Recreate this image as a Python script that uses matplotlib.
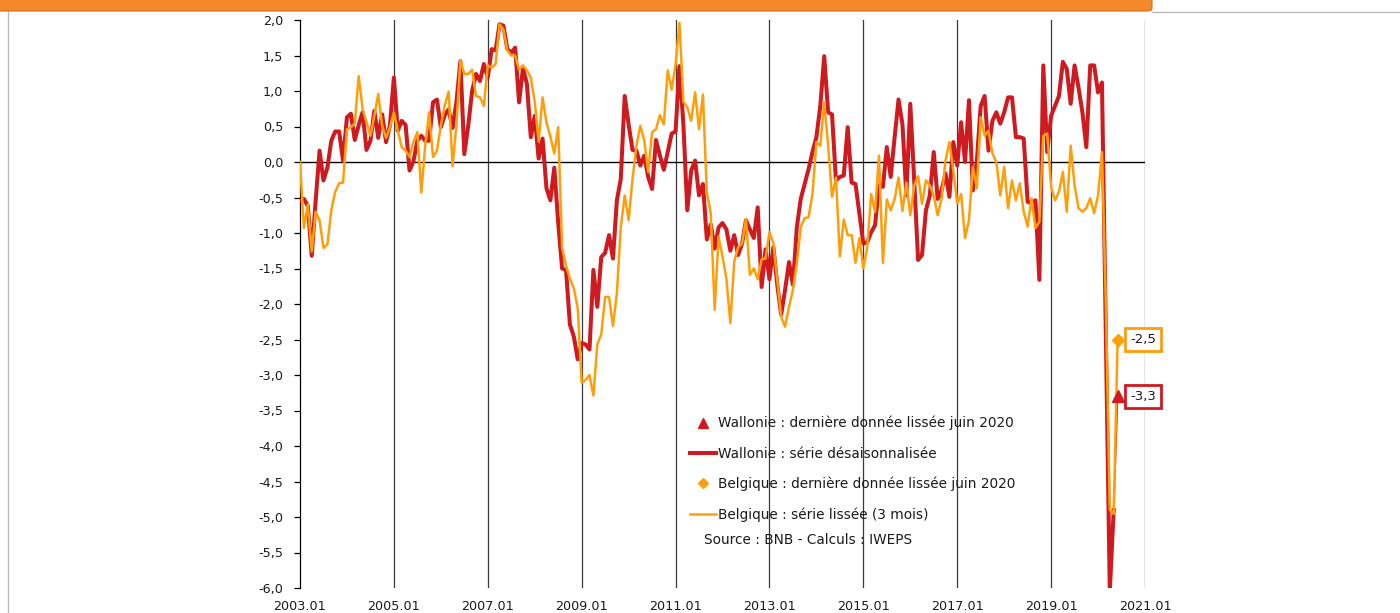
import matplotlib
matplotlib.use("Agg")
import matplotlib.pyplot as plt
from matplotlib.lines import Line2D
from matplotlib.patches import FancyBboxPatch
import numpy as np

# monthly values, 2003.01 .. 2020.05
wallonie = [
    -0.55, -0.52, -0.62, -1.32, -0.55, 0.16, -0.26, -0.08, 0.30, 0.43,
    0.43, 0.02, 0.63, 0.68, 0.31, 0.52, 0.70, 0.17, 0.30, 0.72,
    0.34, 0.67, 0.28, 0.52, 1.19, 0.44, 0.58, 0.52, -0.12, 0.01,
    0.30, 0.37, 0.30, 0.30, 0.84, 0.88, 0.49, 0.66, 0.74, 0.48,
    0.85, 1.42, 0.11, 0.51, 1.00, 1.24, 1.14, 1.38, 1.19, 1.59,
    1.57, 1.94, 1.92, 1.59, 1.54, 1.61, 0.84, 1.32, 1.10, 0.35,
    0.65, 0.05, 0.33, -0.37, -0.54, -0.08, -0.85, -1.50, -1.52, -2.29,
    -2.46, -2.78, -2.55, -2.57, -2.64, -1.52, -2.04, -1.34, -1.28, -1.03,
    -1.36, -0.54, -0.24, 0.93, 0.53, 0.17, 0.16, -0.05, 0.09, -0.21,
    -0.38, 0.31, 0.09, -0.11, 0.14, 0.40, 0.43, 1.35, 0.53, -0.68,
    -0.12, 0.02, -0.47, -0.31, -1.09, -0.88, -1.22, -0.92, -0.86, -0.95,
    -1.25, -1.03, -1.31, -1.15, -0.82, -0.95, -1.07, -0.64, -1.76, -1.23,
    -1.65, -1.20, -1.73, -2.15, -1.80, -1.41, -1.73, -0.92, -0.52, -0.31,
    -0.10, 0.14, 0.35, 0.79, 1.49, 0.70, 0.67, -0.26, -0.21, -0.19,
    0.49, -0.29, -0.31, -0.73, -1.15, -1.13, -0.99, -0.89, -0.33, -0.35,
    0.21, -0.21, 0.35, 0.88, 0.53, -0.47, 0.82, -0.26, -1.38, -1.31,
    -0.68, -0.47, 0.14, -0.52, -0.40, -0.16, -0.49, 0.28, -0.05, 0.56,
    0.00, 0.87, -0.40, 0.00, 0.79, 0.93, 0.16, 0.58, 0.70, 0.54,
    0.70, 0.91, 0.91, 0.35, 0.35, 0.33, -0.56, -0.58, -0.54, -1.66,
    1.36, 0.14, 0.65, 0.79, 0.93, 1.41, 1.31, 0.82, 1.36, 1.05,
    0.70, 0.21, 1.36, 1.36, 0.98, 1.12, -2.50, -6.05, -4.90,
]
belgique = [
    0.00, -0.93, -0.60, -1.26, -0.70, -0.82, -1.21, -1.16, -0.68, -0.42,
    -0.30, -0.29, 0.46, 0.49, 0.54, 1.21, 0.75, 0.56, 0.37, 0.65,
    0.96, 0.51, 0.34, 0.49, 0.70, 0.44, 0.21, 0.16, 0.07, 0.28,
    0.42, -0.43, 0.23, 0.70, 0.07, 0.16, 0.51, 0.80, 0.99, -0.06,
    0.54, 1.43, 1.24, 1.24, 1.30, 0.93, 0.91, 0.79, 1.36, 1.33,
    1.38, 1.94, 1.87, 1.57, 1.50, 1.50, 1.30, 1.36, 1.29, 1.19,
    0.85, 0.29, 0.91, 0.56, 0.36, 0.12, 0.49, -1.21, -1.46, -1.64,
    -1.78, -2.06, -3.11, -3.07, -3.00, -3.29, -2.57, -2.43, -1.90, -1.90,
    -2.31, -1.85, -0.92, -0.47, -0.82, -0.24, 0.23, 0.51, 0.30, -0.14,
    0.42, 0.46, 0.66, 0.53, 1.29, 1.02, 1.37, 1.96, 0.85, 0.77,
    0.58, 0.98, 0.46, 0.95, -0.44, -0.72, -2.08, -1.05, -1.33, -1.64,
    -2.27, -1.40, -1.20, -1.15, -0.80, -1.59, -1.50, -1.65, -1.37, -1.36,
    -0.99, -1.14, -1.66, -2.18, -2.32, -2.04, -1.80, -1.43, -0.92, -0.79,
    -0.78, -0.45, 0.28, 0.23, 0.84, 0.23, -0.49, -0.22, -1.33, -0.81,
    -1.03, -1.03, -1.42, -1.07, -1.50, -1.20, -0.45, -0.70, 0.09, -1.42,
    -0.53, -0.68, -0.52, -0.22, -0.69, -0.29, -0.75, -0.33, -0.20, -0.59,
    -0.26, -0.33, -0.47, -0.75, -0.52, 0.02, 0.28, -0.12, -0.58, -0.45,
    -1.07, -0.82, -0.07, -0.37, 0.63, 0.37, 0.44, 0.12, 0.00, -0.47,
    -0.07, -0.65, -0.26, -0.54, -0.30, -0.70, -0.91, -0.51, -0.93, -0.84,
    0.37, 0.40, -0.35, -0.54, -0.42, -0.14, -0.70, 0.23, -0.33, -0.65,
    -0.70, -0.65, -0.51, -0.72, -0.47, 0.14, -2.00, -4.90, -4.95,
]
# last smoothed value, June 2020
wallonie_last = -3.3
belgique_last = -2.5

year_ticks = [2003, 2005, 2007, 2009, 2011, 2013, 2015, 2017, 2019, 2021]
tick_labels = [f"{y}.01" for y in year_ticks]
y_ticks = np.arange(-6.0, 2.01, 0.5)

RED = "#CF1A1F"
ORANGE = "#FF9E0B"
TXT = "#1a1a1a"
FONT = "DejaVu Sans"

plt.rcParams["font.family"] = FONT

months = np.arange(len(wallonie))
last_m = len(wallonie)  # 2020.06
tick_pos = [(y - 2003) * 12 for y in year_ticks]

fig = plt.figure(figsize=(14, 6.13), dpi=100)
ax = fig.add_axes([300 / 1400, 1 - 588 / 613, 845 / 1400, 568 / 613])

# decorations of the page
fig.patches.append(FancyBboxPatch((-0.01, 1 - 11 / 613), 1152 / 1400 + 0.01, 0.05,
                                  boxstyle="round,pad=0,rounding_size=0.004",
                                  transform=fig.transFigure, facecolor="#F5882A",
                                  edgecolor="#D06E1E", linewidth=0.8, zorder=5))
fig.lines.append(Line2D([1152 / 1400, 1.0], [1 - 11.5 / 613] * 2, transform=fig.transFigure,
                        color="#BBBBBB", lw=1.0))
fig.lines.append(Line2D([8 / 1400] * 2, [0, 1 - 11 / 613], transform=fig.transFigure,
                        color="#BBBBBB", lw=1.0))

for p in tick_pos[1:]:
    ax.axvline(p, color="#3a3a3a", lw=0.9, zorder=1)
ax.axhline(0, color="black", lw=1.0, zorder=1)

ax.plot(months, wallonie, color=RED, lw=2.9, zorder=3, solid_joinstyle="round")
ax.plot(months, belgique, color=ORANGE, lw=1.8, zorder=4, solid_joinstyle="round")

ax.plot([months[-1], last_m], [wallonie[-1], wallonie_last], color=RED, lw=1.2, zorder=4)
ax.plot([months[-1], last_m], [belgique[-1], belgique_last], color=ORANGE, lw=1.8, zorder=5)
ax.plot([last_m], [wallonie_last], marker="^", ms=8, color=RED, ls="none", zorder=6)
ax.plot([last_m], [belgique_last], marker="D", ms=6, color=ORANGE, ls="none", zorder=6)

for val, col in [(belgique_last, ORANGE), (wallonie_last, RED)]:
    ax.annotate(f"{val:.1f}".replace(".", ","), xy=(last_m, val), xytext=(9, 0),
                textcoords="offset points", va="center", ha="left", fontsize=9.5,
                color=TXT, zorder=7,
                bbox=dict(boxstyle="square,pad=0.38", facecolor="white", edgecolor=col, lw=2))

ax.set_xlim(0, 216)
ax.set_ylim(-6, 2)
ax.set_xticks(tick_pos)
ax.set_xticklabels(tick_labels)
ax.set_yticks(y_ticks)
ax.set_yticklabels([f"{v:.1f}".replace(".", ",") for v in y_ticks])
ax.tick_params(axis="x", length=0, pad=9, labelsize=9.2, labelcolor=TXT)
ax.tick_params(axis="y", length=4, width=0.9, pad=8, labelsize=9.2, labelcolor=TXT)
for s in ["top", "right", "bottom"]:
    ax.spines[s].set_visible(False)
ax.spines["left"].set_linewidth(0.9)
ax.set_facecolor("none")

handles = [
    Line2D([], [], color=RED, marker="^", ms=7, ls="none"),
    Line2D([], [], color=RED, lw=2.9),
    Line2D([], [], color=ORANGE, marker="D", ms=5, ls="none"),
    Line2D([], [], color=ORANGE, lw=1.8),
]
labels = [
    "Wallonie : dernière donnée lissée juin 2020",
    "Wallonie : série désaisonnalisée",
    "Belgique : dernière donnée lissée juin 2020",
    "Belgique : série lissée (3 mois)",
]
fig.legend(handles, labels, loc="upper left", bbox_to_anchor=(690 / 1400, 1 - 416 / 613),
           frameon=False, fontsize=9.8, handlelength=1.9, handletextpad=0.15,
           labelspacing=1.18, borderpad=0, borderaxespad=0, labelcolor=TXT)
fig.text(704 / 1400, 1 - 540 / 613, "Source : BNB - Calculs : IWEPS", fontsize=9.8,
         color=TXT, va="center", ha="left")

fig.savefig("out.png", dpi=100)
